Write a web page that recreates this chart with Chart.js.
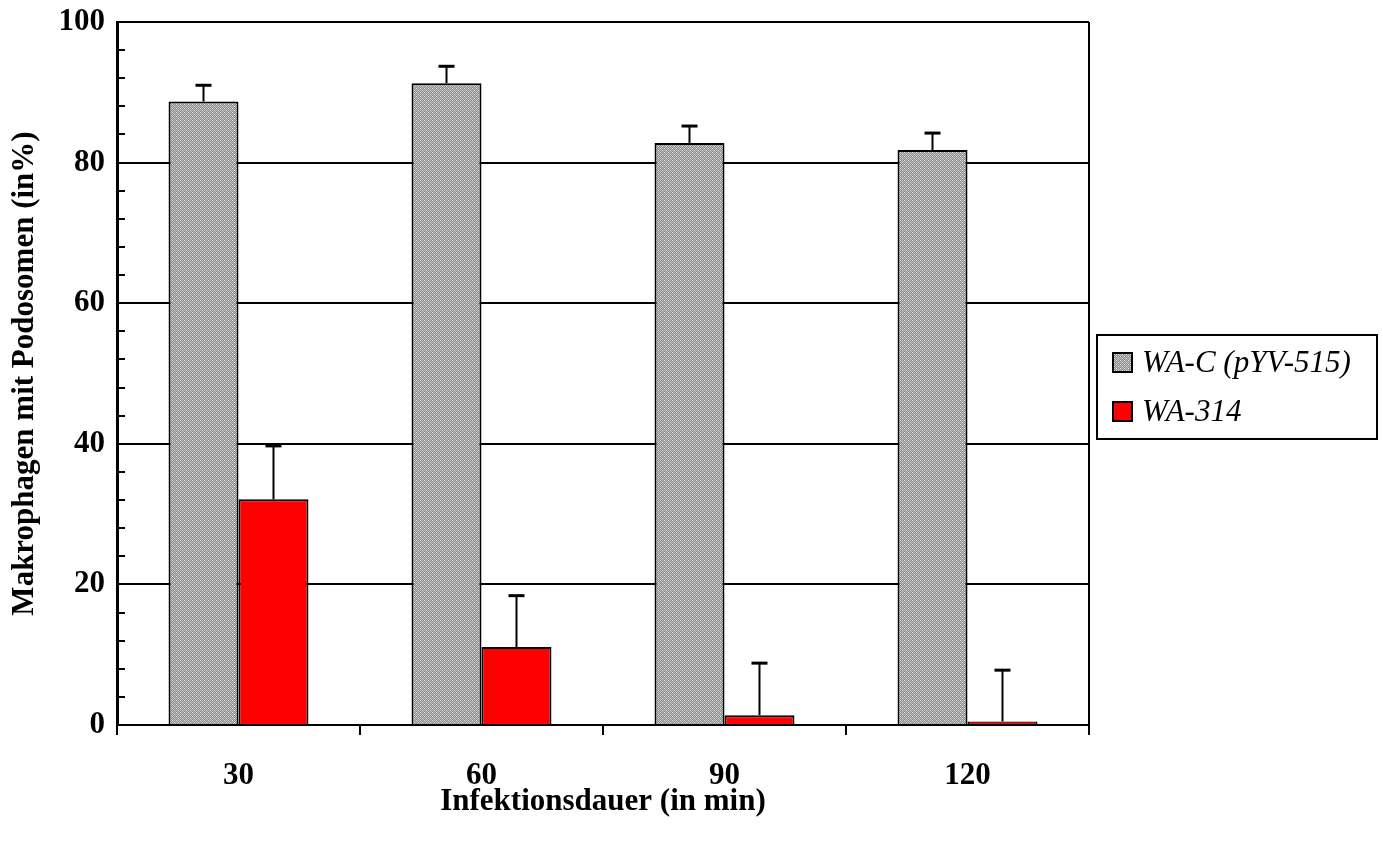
<!DOCTYPE html>
<html>
<head>
<meta charset="utf-8">
<script src="https://cdn.jsdelivr.net/npm/chart.js@4/dist/chart.umd.min.js"></script>
<style>
  html, body { margin: 0; padding: 0; background: #fff; }
  canvas { display: block; }
</style>
</head>
<body>
<canvas id="chart" width="1383" height="843"></canvas>
<script>
// Infection time points (minutes)
const infectionMinutes = ['30', '60', '90', '120'];
// Share of macrophages with podosomes (%) and standard error, per strain
const wacLabel = 'WA-C (pYV-515)';
const wacValues = [88.7, 91.3, 82.8, 81.8];
const wacErrors = [2.3, 2.4, 2.4, 2.4];
const wa314Label = 'WA-314';
const wa314Values = [32.1, 11.1, 1.4, 0.5];
const wa314Errors = [7.6, 7.3, 7.4, 7.3];
// Y axis ticks
const yTickValues = [0, 20, 40, 60, 80, 100];

const FONT = '"Liberation Serif", "Times New Roman", serif';

// Dotted grey fill
function makeGreyPattern() {
  const c = document.createElement('canvas');
  c.width = 4; c.height = 4;
  const g = c.getContext('2d');
  const W = '#ececec', L = '#bdbdbd', D = '#8a8a8a';
  const cols = [
    [W, D, L, D],
    [D, L, D, L],
    [L, D, W, D],
    [D, L, D, L]
  ];
  for (let y = 0; y < 4; y++) for (let x = 0; x < 4; x++) {
    g.fillStyle = cols[y][x];
    g.fillRect(x, y, 1, 1);
  }
  return document.getElementById('chart').getContext('2d').createPattern(c, 'repeat');
}
const greyFill = makeGreyPattern();

// Upward error bars with caps
const errorBarPlugin = {
  id: 'errorBars',
  afterDatasetsDraw(chart) {
    const ctx = chart.ctx;
    const yScale = chart.scales.y;
    chart.data.datasets.forEach((ds, di) => {
      const meta = chart.getDatasetMeta(di);
      meta.data.forEach((bar, i) => {
        const top = yScale.getPixelForValue(ds.data[i] + ds.errors[i]);
        ctx.save();
        ctx.strokeStyle = '#000';
        ctx.lineWidth = 2;
        ctx.beginPath();
        ctx.moveTo(bar.x, bar.y);
        ctx.lineTo(bar.x, top);
        ctx.stroke();
        ctx.lineWidth = 3;
        ctx.beginPath();
        ctx.moveTo(bar.x - 8, top);
        ctx.lineTo(bar.x + 8, top);
        ctx.stroke();
        ctx.restore();
      });
    });
  }
};

// Frame on the right, inward minor ticks on the y axis, and boxed legend
const framePlugin = {
  id: 'frame',
  afterDraw(chart) {
    const ctx = chart.ctx;
    const a = chart.chartArea;
    const yScale = chart.scales.y;
    ctx.save();
    ctx.strokeStyle = '#000';
    ctx.lineWidth = 2;
    ctx.beginPath();
    ctx.moveTo(a.right, a.top);
    ctx.lineTo(a.right, a.bottom + 10);
    ctx.stroke();
    // minor ticks every 4 units
    for (let v = 4; v < 100; v += 4) {
      if (v % 20 === 0) continue;
      const y = Math.round(yScale.getPixelForValue(v));
      ctx.beginPath();
      ctx.moveTo(a.left, y);
      ctx.lineTo(a.left + 8, y);
      ctx.stroke();
    }
    // legend
    const lx = 1097, ly = 335, lw = 280, lh = 104;
    ctx.fillStyle = '#fff';
    ctx.fillRect(lx, ly, lw, lh);
    ctx.lineWidth = 2;
    ctx.strokeRect(lx, ly, lw, lh);
    const rows = [353, 402];
    chart.data.datasets.forEach((ds, di) => {
      const my = rows[di];
      ctx.fillStyle = ds.backgroundColor;
      ctx.fillRect(1113, my, 19, 19);
      ctx.lineWidth = 2;
      ctx.strokeStyle = '#000';
      ctx.strokeRect(1113, my, 19, 19);
      ctx.fillStyle = '#000';
      ctx.font = 'italic 31px ' + FONT;
      ctx.textAlign = 'left';
      ctx.textBaseline = 'middle';
      ctx.fillText(ds.label, 1142, my + 11);
    });
    ctx.restore();
  }
};

new Chart(document.getElementById('chart'), {
  type: 'bar',
  data: {
    labels: infectionMinutes,
    datasets: [
      {
        label: wacLabel,
        data: wacValues,
        errors: wacErrors,
        backgroundColor: greyFill,
        borderColor: '#000',
        borderWidth: 2,
        categoryPercentage: 0.576,
        barPercentage: 1.0
      },
      {
        label: wa314Label,
        data: wa314Values,
        errors: wa314Errors,
        backgroundColor: '#ff0000',
        borderColor: '#000',
        borderWidth: 2,
        categoryPercentage: 0.576,
        barPercentage: 1.0
      }
    ]
  },
  options: {
    responsive: false,
    animation: false,
    devicePixelRatio: 1,
    layout: { padding: { left: 0, top: 22, right: 294, bottom: 0 } },
    plugins: {
      legend: { display: false },
      tooltip: { enabled: false }
    },
    scales: {
      x: {
        afterFit(scale) {
          scale.height = 118;
          scale.paddingLeft = 0;
          scale.paddingRight = 0;
        },
        grid: {
          offset: true,
          drawOnChartArea: false,
          drawTicks: true,
          tickLength: 10,
          color: '#000',
          lineWidth: 2
        },
        border: { display: true, color: '#000', width: 2 },
        ticks: {
          color: '#000',
          padding: 22,
          font: { family: FONT, size: 31, weight: 'bold' }
        },
        title: {
          display: true,
          text: 'Infektionsdauer (in min)',
          color: '#000',
          padding: { top: 0, bottom: 22 },
          font: { family: FONT, size: 31, weight: 'bold' }
        }
      },
      y: {
        min: 0,
        max: 100,
        afterFit(scale) {
          scale.width = 117;
          scale.paddingTop = 0;
          scale.paddingBottom = 0;
        },
        afterBuildTicks(scale) { scale.ticks = yTickValues.map(v => ({ value: v })); },
        grid: {
          drawTicks: false,
          color: '#000',
          lineWidth: 2
        },
        border: { display: true, color: '#000', width: 3 },
        ticks: {
          color: '#000',
          padding: 12,
          font: { family: FONT, size: 31, weight: 'bold' }
        },
        title: {
          display: true,
          text: 'Makrophagen mit Podosomen (in%)',
          color: '#000',
          padding: { top: 6, bottom: 0 },
          font: { family: FONT, size: 31, weight: 'bold' }
        }
      }
    }
  },
  plugins: [errorBarPlugin, framePlugin]
});
</script>
</body>
</html>
